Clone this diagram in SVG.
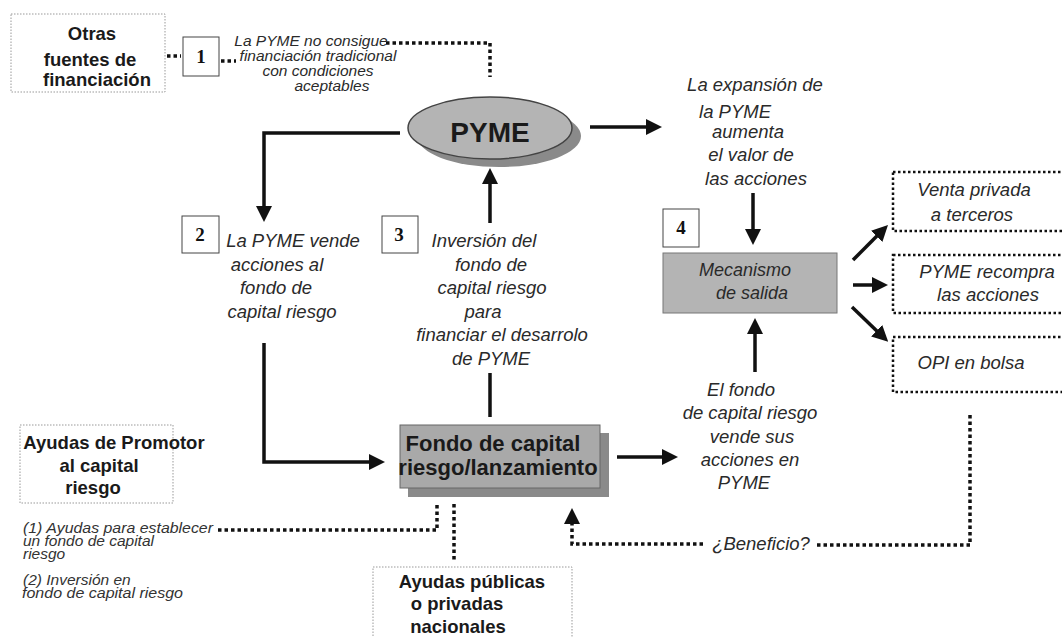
<svg xmlns="http://www.w3.org/2000/svg" width="1062" height="637" viewBox="0 0 1062 637">
<defs>
<style>
.b{font-family:"Liberation Sans",Arial,sans-serif;font-weight:bold;font-size:18.5px;fill:#1a1a1a;text-anchor:middle}
.i{font-family:"Liberation Sans",Arial,sans-serif;font-style:italic;font-size:18.5px;fill:#2a2a2a;text-anchor:middle}
.t{font-family:"Liberation Sans",Arial,sans-serif;font-style:italic;font-size:15.5px;fill:#2a2a2a;text-anchor:middle}
.s{font-family:"Liberation Sans",Arial,sans-serif;font-style:italic;font-size:15.5px;fill:#333}
.n{font-family:"Liberation Serif","Times New Roman",serif;font-weight:bold;font-size:19px;fill:#111;text-anchor:middle}
.num{fill:#fff;stroke:#444;stroke-width:1}
.thin{fill:#fff;stroke:#999;stroke-width:1;stroke-dasharray:1.5 1.5}
.heavy{fill:#fff;stroke:#111;stroke-width:2.5;stroke-dasharray:2.5 2.5}
.arr{fill:none;stroke:#111;stroke-width:3.5;marker-end:url(#ah)}
.ln{fill:none;stroke:#111;stroke-width:3.5}
.dot{fill:none;stroke:#111;stroke-width:3.5;stroke-dasharray:3.5 3}
.dota{fill:none;stroke:#111;stroke-width:3.5;stroke-dasharray:3.5 3;marker-end:url(#ah)}
</style>
<marker id="ah" markerUnits="userSpaceOnUse" markerWidth="16" markerHeight="16" viewBox="0 0 16 16" refX="1" refY="8" orient="auto">
<path d="M0,0 L16,8 L0,16 z" fill="#111"/>
</marker>
</defs>
<rect width="1062" height="637" fill="#fff"/>

<g id="connectors">
<path class="dot" d="M167,56 H181"/>
<path class="dot" d="M221,61 H236"/>
<path class="dot" d="M386,43 H490 V77"/>
<path class="arr" d="M400,133 H264 V207"/>
<path class="arr" d="M264,343 V462 H370"/>
<path class="ln" d="M490,417 V373"/>
<path class="arr" d="M490,223 V183"/>
<path class="arr" d="M590,127 H647"/>
<path class="arr" d="M753,193 V230"/>
<path class="arr" d="M617,457 H663"/>
<path class="arr" d="M755,372 V333"/>
<path class="arr" d="M853,260 L877.4,235.6"/>
<path class="arr" d="M853,285 H873"/>
<path class="arr" d="M852,307 L877.4,331.4"/>
<path class="dot" d="M970,415 V545 H815"/>
<path class="dota" d="M703,544 H572 V523"/>
<path class="dot" d="M218,530 H437 V504"/>
<path class="dot" d="M454,504 V560"/>
</g>

<g id="otras-fuentes">
<rect class="thin" x="11" y="14" width="154" height="78"/>
<text class="b" x="92" y="40">Otras</text>
<text class="b" x="90" y="66">fuentes de</text>
<text class="b" x="97" y="86">financiación</text>
</g>

<g id="paso1">
<rect class="num" x="183" y="37" width="36" height="39"/>
<text class="n" x="201" y="63">1</text>
</g>

<g id="texto1">
<text class="t" x="311" y="46">La PYME no consigue</text>
<text class="t" x="318" y="61">financiación tradicional</text>
<text class="t" x="318" y="76">con condiciones</text>
<text class="t" x="332" y="91">aceptables</text>
</g>

<g id="pyme">
<ellipse cx="499" cy="136" rx="82" ry="31" fill="#8a8a8a"/>
<ellipse cx="490" cy="128" rx="82" ry="31" fill="#b4b4b4" stroke="#444" stroke-width="1.5"/>
<text class="b" x="490" y="142" style="font-size:28px">PYME</text>
</g>

<g id="paso2">
<rect class="num" x="182" y="216" width="37" height="37"/>
<text class="n" x="200" y="241">2</text>
<text class="i" x="293" y="247">La PYME vende</text>
<text class="i" x="277" y="271">acciones al</text>
<text class="i" x="276" y="294">fondo de</text>
<text class="i" x="282" y="318">capital riesgo</text>
</g>

<g id="paso3">
<rect class="num" x="382" y="216" width="36" height="37"/>
<text class="n" x="399" y="241">3</text>
<text class="i" x="484" y="247">Inversión del</text>
<text class="i" x="491" y="271">fondo de</text>
<text class="i" x="492" y="294">capital riesgo</text>
<text class="i" x="483" y="318">para</text>
<text class="i" x="502" y="341">financiar el desarrolo</text>
<text class="i" x="491" y="365">de PYME</text>
</g>

<g id="expansion">
<text class="i" x="755" y="91">La expansión de</text>
<text class="i" x="735" y="118">la PYME</text>
<text class="i" x="748" y="138">aumenta</text>
<text class="i" x="751" y="161">el valor de</text>
<text class="i" x="756" y="185">las acciones</text>
</g>

<g id="paso4">
<rect class="num" x="663" y="209" width="36" height="38"/>
<text class="n" x="681" y="234">4</text>
</g>

<g id="mecanismo">
<rect x="663" y="253" width="174" height="60" fill="#b4b4b4" stroke="#777" stroke-width="1"/>
<text class="i" x="745" y="276" style="font-size:18px">Mecanismo</text>
<text class="i" x="752" y="299" style="font-size:18px">de salida</text>
</g>

<g id="venta-privada">
<rect class="heavy" x="893" y="172" width="180" height="59"/>
<text class="i" x="974" y="196">Venta privada</text>
<text class="i" x="972" y="221">a terceros</text>
</g>

<g id="recompra">
<rect class="heavy" x="893" y="255" width="180" height="58"/>
<text class="i" x="987" y="278">PYME recompra</text>
<text class="i" x="988" y="301">las acciones</text>
</g>

<g id="opi">
<rect class="heavy" x="893" y="337" width="180" height="55"/>
<text class="i" x="971" y="369">OPI en bolsa</text>
</g>

<g id="fondo">
<rect x="408" y="433" width="201" height="64" fill="#8a8a8a"/>
<rect x="400" y="425" width="200" height="63" fill="#a9a9a9" stroke="#666" stroke-width="1"/>
<text class="b" x="493" y="451" style="font-size:22px">Fondo de capital</text>
<text class="b" x="498" y="475" style="font-size:22px">riesgo/lanzamiento</text>
</g>

<g id="fondo-vende">
<text class="i" x="741" y="396">El fondo</text>
<text class="i" x="750" y="419">de capital riesgo</text>
<text class="i" x="752" y="443">vende sus</text>
<text class="i" x="750" y="466">acciones en</text>
<text class="i" x="744" y="489">PYME</text>
</g>

<g id="beneficio">
<text class="i" x="761" y="550">¿Beneficio?</text>
</g>

<g id="ayudas-promotor">
<rect class="thin" x="20" y="425" width="153" height="78"/>
<text class="b" x="114" y="449">Ayudas de Promotor</text>
<text class="b" x="99" y="472">al capital</text>
<text class="b" x="93" y="494">riesgo</text>
</g>

<g id="notas">
<text class="s" x="23" y="533" textLength="190" lengthAdjust="spacingAndGlyphs">(1) Ayudas para establecer</text>
<text class="s" x="23" y="546">un fondo de capital</text>
<text class="s" x="23" y="559">riesgo</text>
<text class="s" x="23" y="585">(2) Inversión en</text>
<text class="s" x="22" y="598" textLength="161" lengthAdjust="spacingAndGlyphs">fondo de capital riesgo</text>
</g>

<g id="ayudas-publicas">
<rect class="thin" x="373" y="567" width="199" height="80"/>
<text class="b" x="472" y="588">Ayudas públicas</text>
<text class="b" x="457" y="610">o privadas</text>
<text class="b" x="458" y="633">nacionales</text>
</g>
</svg>
